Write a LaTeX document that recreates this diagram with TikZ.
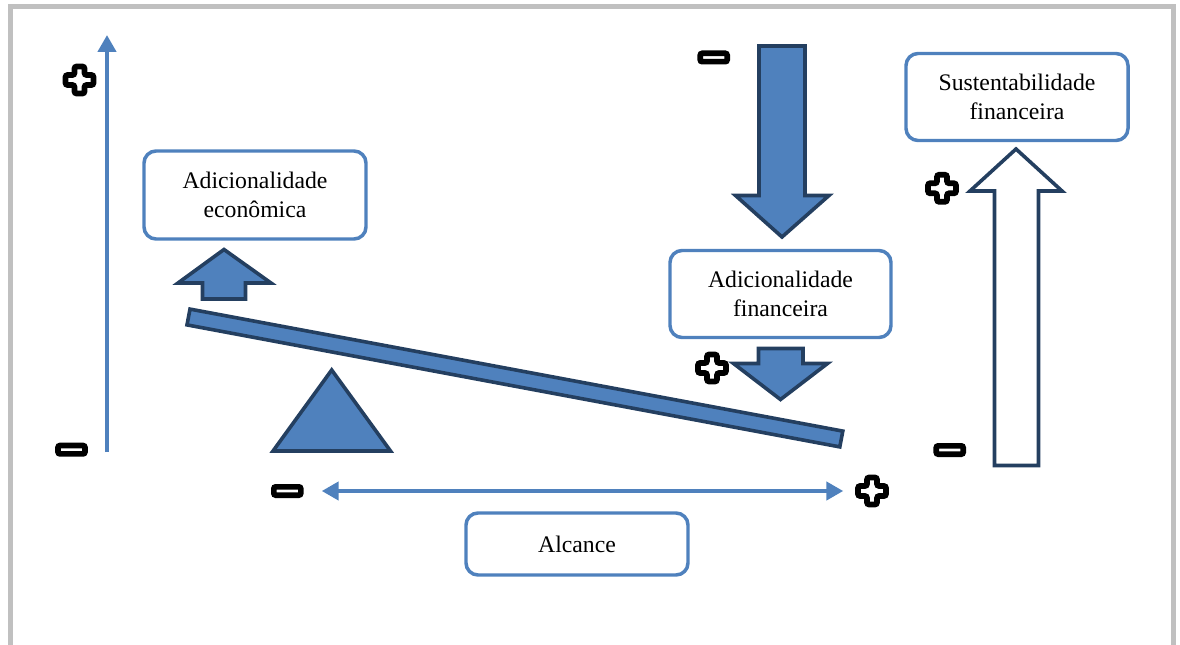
\documentclass[tikz,border=0pt]{standalone}
\usepackage{fontspec}
\setmainfont{Liberation Serif}
\usetikzlibrary{arrows.meta}
\definecolor{accent}{HTML}{4F81BD}
\definecolor{darkedge}{HTML}{243F60}
\definecolor{framegray}{HTML}{C0C0C0}
\tikzset{
  box/.style={draw=accent, line width=2.6pt, rounded corners=9pt, fill=white,
    align=center, inner sep=0pt, font=\fontsize{17.8}{21.3}\selectfont},
  blockarrow/.style={draw=darkedge, line width=2.7pt, fill=accent, line join=miter},
  hollowarrow/.style={draw=darkedge, line width=2.7pt, fill=white, line join=miter},
  thinarrow/.style={draw=accent, line width=3.3pt},
  signline/.style={draw=black, line width=4.2pt, fill=white, rounded corners=1.5pt},
  plussign/.pic={
    \path[signline] (-14,-5) -- (-5,-5) -- (-5,-13.5) -- (5,-13.5) -- (5,-5)
      -- (14,-5) -- (14,5) -- (5,5) -- (5,13.5) -- (-5,13.5) -- (-5,5)
      -- (-14,5) -- cycle;
  },
  minussign/.pic={
    \path[signline] (-13.5,-4.2) rectangle (13.5,4.2);
  },
}
\begin{document}
\begin{tikzpicture}[x=0.75pt,y=-0.75pt]
\useasboundingbox (0,0) rectangle (1180,645);
% frame
\draw[framegray, line width=3.9pt] (10.7,648) -- (10.7,6.2) -- (1173.3,6.2) -- (1173.3,648);

% text boxes
\node[box, minimum width=166.5pt, minimum height=66pt] (econ) at (255,195) {Adicionalidade\\econômica};
\node[box, minimum width=165.75pt, minimum height=65.25pt] (fin) at (780.5,294) {Adicionalidade\\financeira};
\node[box, minimum width=166.5pt, minimum height=65.25pt] (sust) at (1017,97) {Sustentabilidade\\financeira};
\node[box, minimum width=166.5pt, minimum height=46.5pt] (alc) at (577,544) {Alcance};

% thin arrows
\coordinate (vbot) at (107,452);
\coordinate (vtop) at (107,35);
\draw[thinarrow, -{Triangle[length=12.75pt,width=13.5pt]}] (vbot) -- (vtop);
\coordinate (hleft) at (321.7,491);
\coordinate (hright) at (843.3,491);
\draw[thinarrow, {Triangle[length=12.75pt,width=13.5pt]}-{Triangle[length=12.75pt,width=13.5pt]}] (hleft) -- (hright);

% small up arrow (econ)
\draw[blockarrow] (224,249.5) -- (271,283) -- (245.5,283) -- (245.5,299) -- (202.5,299) -- (202.5,283) -- (178,283) -- cycle;

% beam
\draw[blockarrow] (190,309.1) -- (842.8,431.1) -- (839.8,446.9) -- (187,324.9) -- cycle;

% fulcrum
\draw[blockarrow] (331.7,370) -- (390.5,451) -- (273,451) -- cycle;

% big down arrow
\draw[blockarrow] (759,46) -- (805,46) -- (805,195.5) -- (829,195.5) -- (782,237) -- (735.5,195.5) -- (759,195.5) -- cycle;

% small down arrow (fin)
\draw[blockarrow] (758.5,348.5) -- (803,348.5) -- (803,363.5) -- (827.5,363.5) -- (780.5,399.5) -- (733.5,363.5) -- (758.5,363.5) -- cycle;

% hollow up arrow
\draw[hollowarrow] (1016,149) -- (1062,191) -- (1038.5,191) -- (1038.5,465.5) -- (994.5,465.5) -- (994.5,191) -- (970,191) -- cycle;

% signs
\pic (p1) at (79.5,80) {plussign};
\pic (m1) at (71.5,449.7) {minussign};
\pic (m2) at (713.7,57.5) {minussign};
\pic (p2) at (712,368) {plussign};
\pic (p3) at (942,188.3) {plussign};
\pic (m3) at (949.7,450) {minussign};
\pic (m4) at (287.3,491) {minussign};
\pic (p4) at (872,491) {plussign};
\end{tikzpicture}
\end{document}
